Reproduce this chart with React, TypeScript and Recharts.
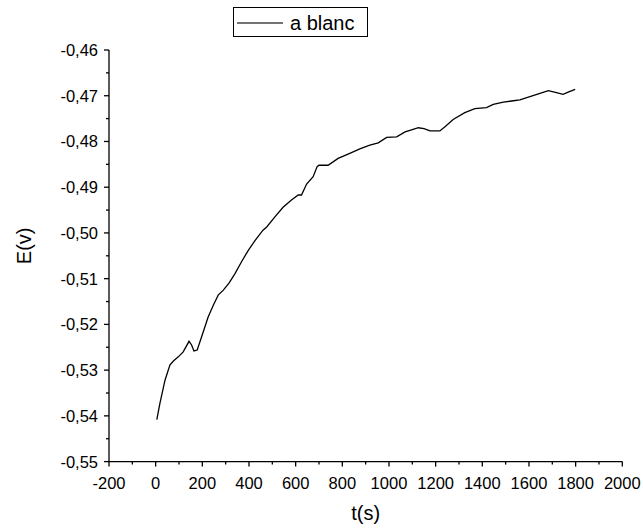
import React from 'react';
import { LineChart, Line, XAxis, YAxis, Legend } from 'recharts';

const seriesName = 'a blanc';

const timeValues = [
  5, 18, 40, 61, 76, 97, 118, 143, 154, 164, 178, 197, 225, 247, 268, 290, 315, 340, 368, 397,
  428, 460, 476, 511, 546, 582, 611, 625, 647, 675, 692, 700, 739, 782, 832, 875, 918, 954, 990,
  1033, 1069, 1100, 1126, 1150, 1176, 1218, 1240, 1275, 1325, 1368, 1418, 1447, 1490, 1533, 1561,
  1604, 1647, 1683, 1718, 1746, 1768, 1798,
];

const potentialValues = [
  -0.5408, -0.5373, -0.5322, -0.5289, -0.528, -0.5271, -0.526, -0.5237, -0.5245, -0.5258, -0.5256,
  -0.5227, -0.5184, -0.5158, -0.5136, -0.5125, -0.5109, -0.5089, -0.5063, -0.5038, -0.5015, -0.4994,
  -0.4987, -0.4965, -0.4944, -0.4928, -0.4917, -0.4917, -0.4893, -0.4877, -0.4855, -0.4852, -0.4852,
  -0.4837, -0.4826, -0.4816, -0.4808, -0.4803, -0.4791, -0.479, -0.4779, -0.4774, -0.477, -0.4772,
  -0.4777, -0.4777, -0.4768, -0.4752, -0.4737, -0.4728, -0.4726, -0.4719, -0.4714, -0.4711, -0.4709,
  -0.4702, -0.4695, -0.4689, -0.4693, -0.4697, -0.4692, -0.4686,
];

const xMajorTicks = [-200, 0, 200, 400, 600, 800, 1000, 1200, 1400, 1600, 1800, 2000];
const xMinorTicks = [-100, 100, 300, 500, 700, 900, 1100, 1300, 1500, 1700, 1900];
const yMajorTicks = [-0.55, -0.54, -0.53, -0.52, -0.51, -0.5, -0.49, -0.48, -0.47, -0.46];
const yMinorTicks = [-0.545, -0.535, -0.525, -0.515, -0.505, -0.495, -0.485, -0.475, -0.465];

const data = timeValues.map((t, i) => ({ t, e: potentialValues[i] }));
const xTicks = [...xMajorTicks, ...xMinorTicks].sort((a, b) => a - b);
const yTicks = [...yMajorTicks, ...yMinorTicks].sort((a, b) => a - b);

const FONT = '"Liberation Sans", Arial, sans-serif';

const isXMajor = (v: number) => xMajorTicks.some((m) => Math.abs(m - v) < 1e-6);
const isYMajor = (v: number) => yMajorTicks.some((m) => Math.abs(m - v) < 1e-6);

const XTick = (props: any) => {
  const { x, y, payload } = props;
  const major = isXMajor(payload.value);
  return (
    <g>
      <line x1={x} y1={y} x2={x} y2={y + (major ? 5 : 3)} stroke="#000" strokeWidth={1.3} />
      {major && (
        <text x={x} y={y + 27} textAnchor="middle" fontFamily={FONT} fontSize={16.5} fill="#000">
          {String(payload.value)}
        </text>
      )}
    </g>
  );
};

const YTick = (props: any) => {
  const { x, y, payload } = props;
  const major = isYMajor(payload.value);
  return (
    <g>
      <line x1={x - (major ? 5 : 3)} y1={y} x2={x} y2={y} stroke="#000" strokeWidth={1.3} />
      {major && (
        <text x={x - 11} y={y + 6} textAnchor="end" fontFamily={FONT} fontSize={16.5} fill="#000">
          {payload.value.toFixed(2).replace('.', ',')}
        </text>
      )}
    </g>
  );
};

const LegendBox = (props: any) => {
  const item = props.payload && props.payload[0];
  return (
    <div
      style={{
        width: 133,
        height: 28,
        border: '1px solid #000',
        background: '#fff',
        position: 'relative',
        boxSizing: 'content-box',
      }}
    >
      <svg width={133} height={28} style={{ position: 'absolute', left: 0, top: 0 }}>
        <line x1={3} y1={15} x2={49} y2={15} stroke="#444" strokeWidth={1.3} />
        <text x={56} y={22} fontFamily={FONT} fontSize={20} fill="#000">
          {item ? item.value : seriesName}
        </text>
      </svg>
    </div>
  );
};

export default function App() {
  return (
    <div style={{ position: 'absolute', left: 0, top: 0, width: 643, height: 528, background: '#fff' }}>
      <LineChart width={643} height={528} data={data} margin={{ top: 50, right: 20.7, bottom: 0, left: 0 }}>
        <XAxis
          dataKey="t"
          type="number"
          domain={[-200, 2000]}
          ticks={xTicks}
          interval={0}
          tickLine={false}
          tickSize={0}
          tickMargin={0}
          tick={<XTick />}
          axisLine={{ stroke: '#000', strokeWidth: 1.3 }}
          height={66.4}
          label={{
            content: (p: any) => {
              const vb = p.viewBox;
              return (
                <text x={vb.x + vb.width / 2} y={vb.y + 58} textAnchor="middle" fontFamily={FONT} fontSize={20} fill="#000">
                  t(s)
                </text>
              );
            },
          }}
        />
        <YAxis
          type="number"
          domain={[-0.55, -0.46]}
          ticks={yTicks}
          interval={0}
          tickLine={false}
          tickSize={0}
          tickMargin={0}
          tick={<YTick />}
          axisLine={{ stroke: '#000', strokeWidth: 1.3 }}
          width={109}
          allowDataOverflow
          label={{
            content: (p: any) => {
              const vb = p.viewBox;
              const cx = 31;
              const cy = vb.y + vb.height / 2 - 10;
              return (
                <text
                  x={cx}
                  y={cy}
                  textAnchor="middle"
                  transform={`rotate(-90 ${cx} ${cy})`}
                  fontFamily={FONT}
                  fontSize={20}
                  fill="#000"
                >
                  E(v)
                </text>
              );
            },
          }}
        />
        <Legend
          layout="horizontal"
          verticalAlign="middle"
          align="center"
          content={<LegendBox />}
          wrapperStyle={{ position: 'absolute', left: 233, top: 7, width: 'auto', height: 'auto' }}
        />
        <Line
          type="linear"
          dataKey="e"
          name={seriesName}
          stroke="#000"
          strokeWidth={1.3}
          dot={false}
          activeDot={false}
          isAnimationActive={false}
        />
      </LineChart>
    </div>
  );
}
